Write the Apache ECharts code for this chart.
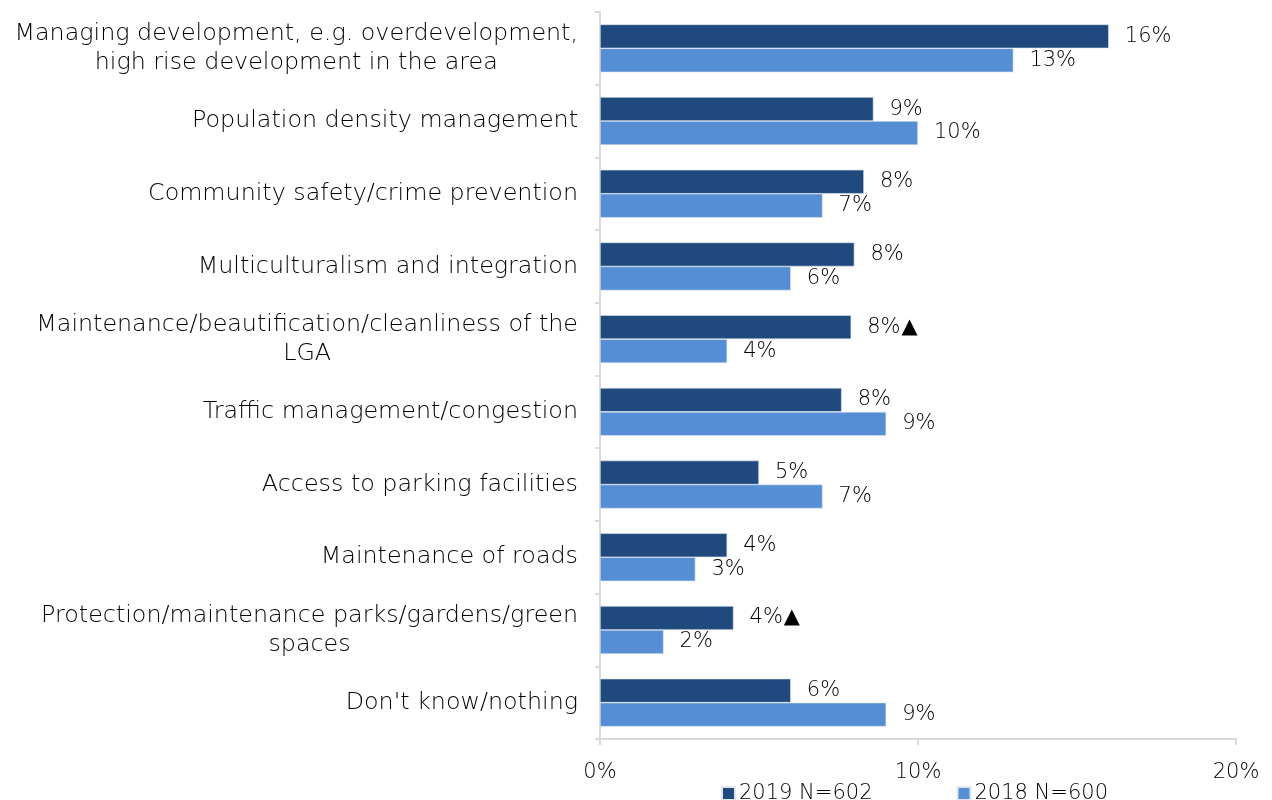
<!DOCTYPE html>
<html>
<head>
<meta charset="utf-8">
<script src="https://cdn.jsdelivr.net/npm/echarts@6/dist/echarts.min.js"></script>
<style>
  html, body { margin: 0; padding: 0; background: #ffffff; }
  #chart { width: 1272px; height: 800px; }
</style>
</head>
<body>
<div id="chart"></div>
<script>
// Issues raised by residents, share of respondents (%)
const categories = [
  'Managing development, e.g. overdevelopment,\nhigh rise development in the area',
  'Population density management',
  'Community safety/crime prevention',
  'Multiculturalism and integration',
  'Maintenance/beautification/cleanliness of the\nLGA',
  'Traffic management/congestion',
  'Access to parking facilities',
  'Maintenance of roads',
  'Protection/maintenance parks/gardens/green\nspaces',
  "Don't know/nothing"
];
const seriesNames = ['2019 N=602', '2018 N=600'];
const values2019 = [16.0, 8.6, 8.3, 8.0, 7.9, 7.6, 5.0, 4.0, 4.2, 6.0];
const values2018 = [13.0, 10.0, 7.0, 6.0, 4.0, 9.0, 7.0, 3.0, 2.0, 9.0];
// significant increase versus previous year
const sigUp2019 = [false, false, false, false, true, false, false, false, true, false];
const xTicks = [0, 10, 20];

const FONT = 'DejaVu Sans';
const TEXT = '#000000';
const WEIGHT = 300;

const chart = echarts.init(document.getElementById('chart'), null, { renderer: 'canvas' });

function valueLabel(flags) {
  return {
    show: true,
    position: 'right',
    distance: 16,
    fontFamily: FONT,
    fontWeight: WEIGHT,
    fontSize: 21,
    color: TEXT,
    formatter: p => Math.round(p.value) + '%' + (flags && flags[p.dataIndex] ? '{up|\u25B2}' : ''),
    rich: {
      up: { fontFamily: FONT, fontWeight: 400, fontSize: 21, color: '#000000', padding: [0, 0, 0, 1] }
    }
  };
}

chart.setOption({
  animation: false,
  textStyle: { fontFamily: FONT },
  grid: { left: 600, right: 36, top: 12, bottom: 61, containLabel: false },
  legend: {
    data: seriesNames,
    left: 716,
    top: 778,
    itemWidth: 13,
    itemHeight: 13,
    itemGap: 84,
    icon: 'rect',
    textStyle: { fontFamily: FONT, fontWeight: WEIGHT, fontSize: 21, color: TEXT, padding: [0, 0, 0, -1] }
  },
  xAxis: {
    type: 'value',
    min: xTicks[0],
    max: xTicks[xTicks.length - 1],
    interval: 10,
    splitLine: { show: false },
    axisLine: { show: true, lineStyle: { color: '#d9d9d9', width: 2 } },
    axisTick: { show: true, length: 6, lineStyle: { color: '#d9d9d9', width: 2 } },
    axisLabel: {
      fontFamily: FONT, fontWeight: WEIGHT, fontSize: 21, color: TEXT, margin: 23,
      formatter: v => v + '%'
    }
  },
  yAxis: {
    type: 'category',
    inverse: true,
    data: categories,
    axisLine: { show: true, lineStyle: { color: '#d9d9d9', width: 2 } },
    axisTick: { show: true, length: 5, lineStyle: { color: '#d9d9d9', width: 2 } },
    axisLabel: {
      margin: 22,
      formatter: v => v.split('\n').map(s => '{c|' + s + '}').join('\n'),
      rich: {
        c: { fontFamily: FONT, fontWeight: WEIGHT, fontSize: 23.8, color: TEXT, align: 'center', lineHeight: 29 }
      }
    }
  },
  series: [
    {
      name: seriesNames[0],
      type: 'bar',
      data: values2019,
      barCategoryGap: '34%',
      barGap: '0%',
      itemStyle: { color: '#204a7e', borderColor: '#dfe6ef', borderWidth: 0.6 },
      label: valueLabel(sigUp2019)
    },
    {
      name: seriesNames[1],
      type: 'bar',
      data: values2018,
      barCategoryGap: '34%',
      barGap: '0%',
      itemStyle: { color: '#558ed5', borderColor: '#dfe6ef', borderWidth: 0.6 },
      label: valueLabel(null)
    }
  ]
});
</script>
</body>
</html>
